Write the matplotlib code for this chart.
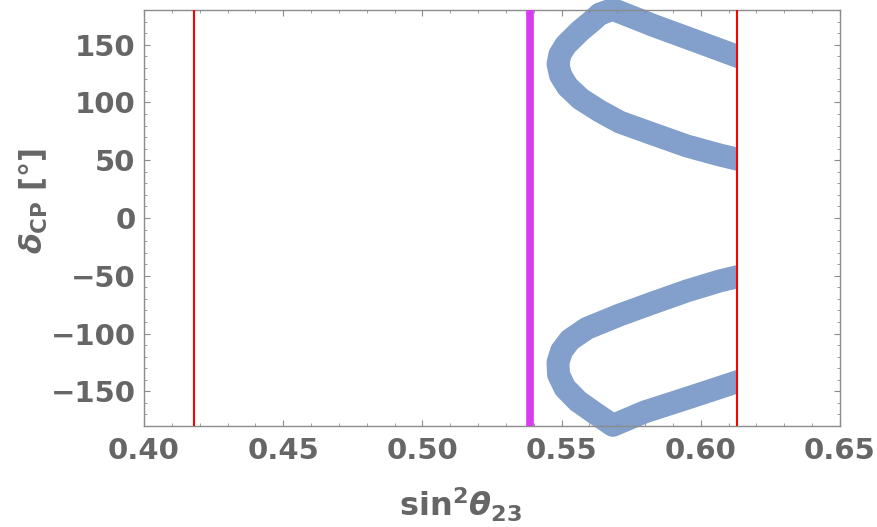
import matplotlib.pyplot as plt
from matplotlib.patches import Rectangle
import numpy as np

# band (centre line of the scatter cloud)
upper_x = [0.6129, 0.6050, 0.5943, 0.5835, 0.5763, 0.5684, 0.5637, 0.5609, 0.5566, 0.5515,
           0.5494, 0.5487, 0.5496, 0.5522, 0.5569, 0.5637, 0.5709, 0.5828, 0.5950, 0.6068, 0.6129]
upper_d = [140.1, 147.1, 156.6, 166.1, 173.0, 180.5, 176.5, 170.4, 161.8, 149.7,
           141.5, 133.2, 123.5, 113.5, 102.9, 92.5, 83.0, 72.7, 62.3, 54.5, 51.0]
lower_x = [0.6129, 0.6068, 0.5950, 0.5828, 0.5709, 0.5591, 0.5530, 0.5500, 0.5487, 0.5489,
           0.5512, 0.5558, 0.5619, 0.5684, 0.5799, 0.5943, 0.6129]
lower_d = [-51.0, -54.5, -63.1, -73.5, -83.9, -95.5, -105.5, -115.0, -125.0, -135.5,
           -147.1, -158.4, -168.8, -179.5, -167.8, -156.6, -141.9]

bounds_3sigma = [0.418, 0.613]
best_fit = 0.5385

xticks = [0.40, 0.45, 0.50, 0.55, 0.60, 0.65]
yticks = [-150, -100, -50, 0, 50, 100, 150]

gray = '#666666'
frame = '#8c8c8c'

plt.rcParams['font.family'] = 'DejaVu Sans'
plt.rcParams['font.weight'] = 'bold'
plt.rcParams['axes.labelweight'] = 'bold'
plt.rcParams['mathtext.fontset'] = 'custom'
plt.rcParams['mathtext.rm'] = 'DejaVu Sans:bold'
plt.rcParams['mathtext.it'] = 'DejaVu Sans:italic:bold'
plt.rcParams['mathtext.bf'] = 'DejaVu Sans:bold'

fig = plt.figure(figsize=(8.77, 5.27), dpi=100)
ax = fig.add_axes([0.1642, 0.1917, 0.7936, 0.7894])

clip = Rectangle((0.40, -200), bounds_3sigma[1] - 0.40, 400, transform=ax.transData)
for bx, bd in [(upper_x, upper_d), (lower_x, lower_d)]:
    ln, = ax.plot(bx, bd, color='#6487BE', lw=16.5, alpha=0.8,
                  solid_capstyle='projecting', solid_joinstyle='round', zorder=2)
    ln.set_clip_path(clip)

for b in bounds_3sigma:
    ax.axvline(b, color='#FF0000', lw=1.5, zorder=3)
ax.axvline(best_fit, color='#D63CF0', lw=5.5, zorder=3)

ax.set_xlim(0.40, 0.65)
ax.set_ylim(-180, 180)
ax.set_xticks(xticks)
ax.set_xticklabels(['%.2f' % t for t in xticks])
ax.set_yticks(yticks)
ax.set_xticks(np.arange(0.40, 0.6501, 0.01), minor=True)
ax.set_yticks(np.arange(-180, 181, 10), minor=True)
ax.tick_params(which='both', direction='in', top=True, right=True, color=frame,
               labelcolor=gray, labelsize=21)
ax.tick_params(which='major', length=4.5, width=0.8)
ax.tick_params(which='minor', length=2.5, width=0.6)
ax.tick_params(axis='x', pad=8)
ax.tick_params(axis='y', pad=6)
for s in ax.spines.values():
    s.set_color(frame)
    s.set_linewidth(1.0)

ax.set_xlabel(r'$\mathrm{sin}^{2}\theta_{23}$', fontsize=23, color=gray, fontweight='bold')
ax.set_ylabel(r'$\delta_{\mathrm{CP}}$ [°]', fontsize=22, color=gray, fontweight='bold')
ax.xaxis.set_label_coords(0.455, -0.145)
ax.yaxis.set_label_coords(-0.135, 0.54)

fig.savefig('out.png', dpi=100)
